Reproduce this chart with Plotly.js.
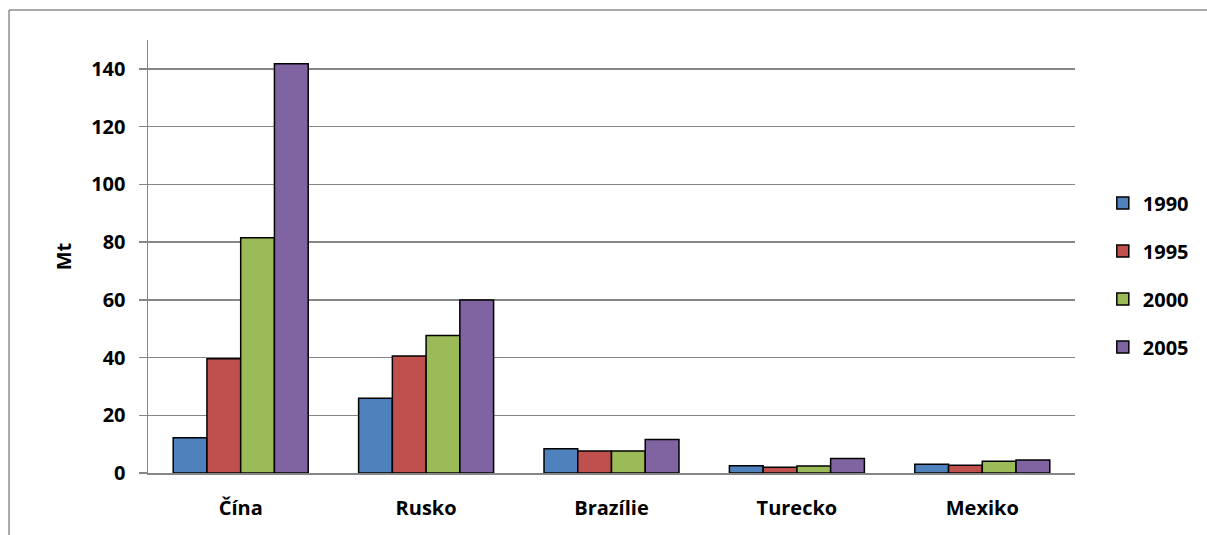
<!DOCTYPE html>
<html>
<head>
<meta charset="utf-8">
<script src="https://cdn.plot.ly/plotly-3.0.1.min.js"></script>
<style>
  html, body { margin: 0; padding: 0; background: #fff; }
  #chart { width: 1207px; height: 535px; }
</style>
</head>
<body>
<div id="chart"></div>
<script>
// Countries on the category axis
const countries = ['Čína', 'Rusko', 'Brazílie', 'Turecko', 'Mexiko'];
// Years shown as series
const years = ['1990', '1995', '2000', '2005'];
// Values in Mt per year
const v1990 = [12.2, 25.9, 8.4, 2.5, 3.0];
const v1995 = [39.6, 40.5, 7.6, 2.0, 2.7];
const v2000 = [81.5, 47.6, 7.6, 2.4, 4.1];
const v2005 = [141.8, 59.9, 11.6, 5.0, 4.5];
const seriesValues = [v1990, v1995, v2000, v2005];
const colors = ['#4F81BD', '#C0504D', '#9BBB59', '#8064A2'];
// Y tick values
const yTicks = [0, 20, 40, 60, 80, 100, 120, 140];

const font = { family: '"Open Sans", Lato, sans-serif', size: 20, color: '#000', weight: 700 };

const traces = years.map((yr, i) => ({
  type: 'bar',
  name: yr,
  x: countries,
  y: seriesValues[i],
  legendgroup: 'g' + yr,
  marker: { color: colors[i], line: { color: '#000', width: 1.5 } },
  hoverinfo: 'x+y+name'
}));

const layout = {
  width: 1207,
  height: 535,
  margin: { l: 148, r: 132, t: 40, b: 62, autoexpand: false },
  paper_bgcolor: '#fff',
  plot_bgcolor: '#fff',
  font: font,
  barmode: 'group',
  bargap: 0.272,
  bargroupgap: 0,
  showlegend: true,
  legend: {
    x: 1.03, xanchor: 'left',
    y: 0.457, yanchor: 'middle',
    font: font,
    itemwidth: 30,
    tracegroupgap: 19,
    bgcolor: 'rgba(0,0,0,0)'
  },
  xaxis: {
    type: 'category',
    showgrid: false,
    showline: true,
    linecolor: '#868686',
    linewidth: 1.5,
    ticks: '',
    ticklabelstandoff: 16,
    tickfont: font,
    zeroline: false,
    automargin: false
  },
  yaxis: {
    range: [0, 150],
    tickvals: yTicks,
    ticktext: yTicks.map(String),
    showgrid: true,
    gridcolor: '#868686',
    gridwidth: 1.5,
    showline: true,
    linecolor: '#868686',
    linewidth: 1.5,
    ticks: 'outside',
    ticklen: 8,
    tickwidth: 1.5,
    tickcolor: '#868686',
    ticklabelstandoff: 9,
    tickfont: font,
    zeroline: false,
    automargin: false,
    title: { text: 'Mt', font: font, standoff: 14 }
  },
  shapes: [
    // chart frame: top and left edges
    { type: 'line', xref: 'paper', yref: 'paper', x0: -0.1499, x1: 1.2, y0: 1.0693, y1: 1.0693,
      line: { color: '#8c8c8c', width: 1.5 } },
    { type: 'line', xref: 'paper', yref: 'paper', x0: -0.1499, x1: -0.1499, y0: -0.2, y1: 1.0693,
      line: { color: '#8c8c8c', width: 1.5 } }
  ]
};

Plotly.newPlot('chart', traces, layout, { displayModeBar: false, staticPlot: true });
</script>
</body>
</html>
